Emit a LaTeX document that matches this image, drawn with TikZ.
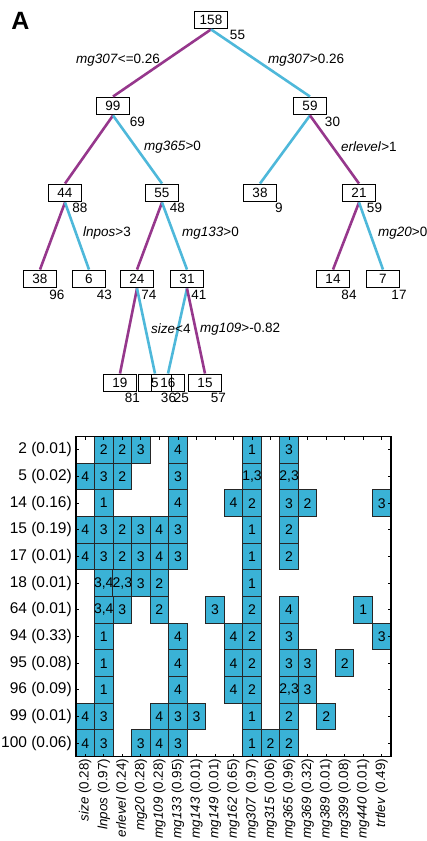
\documentclass[tikz,border=0pt]{standalone}
\usepackage{fontspec}
\setmainfont{Liberation Sans}
\definecolor{tcyan}{RGB}{78,184,218}
\definecolor{tpurple}{RGB}{150,55,140}
\definecolor{cellcyan}{RGB}{58,178,214}
\newcommand{\tfont}{\fontsize{13.5}{15}\selectfont}
\newcommand{\cfont}{\fontsize{14}{16}\selectfont}
\newcommand{\lfont}{\fontsize{15.5}{17}\selectfont}
\newcommand{\vfont}{\fontsize{13.4}{15}\selectfont}
\begin{document}
\begin{tikzpicture}[x=1pt,y=-1pt,
  treebox/.style={draw, line width=1.9pt, minimum width=33pt, minimum height=17pt,
    inner sep=0pt, font=\tfont},
  count/.style={font=\tfont, inner sep=0pt},
  split/.style={font=\tfont, inner sep=0pt, anchor=west},
  pedge/.style={draw=tpurple, line width=2.6pt},
  cedge/.style={draw=tcyan, line width=2.6pt},
  cell/.style={draw=black!85, line width=1pt, fill=cellcyan, minimum width=18.53pt,
    minimum height=26.67pt, inner sep=0pt, font=\cfont},
  rowlab/.style={font=\lfont, anchor=east, inner sep=0pt},
  collab/.style={font=\vfont, anchor=east, rotate=90, inner sep=0pt},
  tick/.style={line width=0.8pt}]
\useasboundingbox (0,0) rectangle (426,841);

% panel letter
\node[font=\fontsize{25}{28}\selectfont\bfseries, inner sep=0pt] (panelA) at (20.5,20.5) {A};

% ---------- decision tree ----------
\node[treebox] (n158) at (211,20) {158};
\node[treebox] (n99)  at (113,106) {99};
\node[treebox] (n59)  at (310,106) {59};
\node[treebox] (n44)  at (65,193) {44};
\node[treebox] (n55)  at (162,193) {55};
\node[treebox] (n38a) at (260,193) {38};
\node[treebox] (n21)  at (359,193) {21};
\node[treebox] (n38b) at (40,279) {38};
\node[treebox] (n6)   at (89,279) {6};
\node[treebox] (n24)  at (137,279) {24};
\node[treebox] (n31)  at (187,279) {31};
\node[treebox] (n14)  at (333,279) {14};
\node[treebox] (n7)   at (383,279) {7};
\node[treebox] (n19)  at (120,383) {19};
\node[treebox] (n5)   at (155,383) {5};
\node[treebox] (n16)  at (168,383) {16};
\node[treebox] (n15)  at (205,383) {15};

\draw[pedge] (n158.south) -- (n99.north);
\draw[cedge] (n158.south) -- (n59.north);
\draw[pedge] (n99.south) -- (n44.north);
\draw[cedge] (n99.south) -- (n55.north);
\draw[cedge] (n59.south) -- (n38a.north);
\draw[pedge] (n59.south) -- (n21.north);
\draw[pedge] (n44.south) -- (n38b.north);
\draw[cedge] (n44.south) -- (n6.north);
\draw[pedge] (n55.south) -- (n24.north);
\draw[cedge] (n55.south) -- (n31.north);
\draw[pedge] (n21.south) -- (n14.north);
\draw[cedge] (n21.south) -- (n7.north);
\draw[pedge] (n24.south) -- (n19.north);
\draw[cedge] (n24.south) -- (n5.north);
\draw[cedge] (n31.south) -- (n16.north);
\draw[pedge] (n31.south) -- (n15.north);

% node counts
\node[count] (k158) at (237.5,35) {55};
\node[count] (k99)  at (137.5,122) {69};
\node[count] (k59)  at (332.5,122) {30};
\node[count] (k44)  at (80,208) {88};
\node[count] (k55)  at (177.5,208) {48};
\node[count] (k38a) at (279,208) {9};
\node[count] (k21)  at (374.5,208) {59};
\node[count] (k38b) at (57,295) {96};
\node[count] (k6)   at (104.5,295) {43};
\node[count] (k24)  at (149,295) {74};
\node[count] (k31)  at (199,295) {41};
\node[count] (k14)  at (349,295) {84};
\node[count] (k7)   at (399,295) {17};
\node[count] (k19)  at (132.5,398) {81};
\node[count] (k5)   at (168.5,398) {36};
\node[count] (k16)  at (181.5,398) {25};
\node[count] (k15)  at (218.5,398) {57};

% split rules
\node[split] (s1) at (76,60)  {\textit{mg307}<=0.26};
\node[split] (s2) at (268,60) {\textit{mg307}>0.26};
\node[split] (s3) at (144,147) {\textit{mg365}>0};
\node[split] (s4) at (341,147) {\textit{erlevel}>1};
\node[split] (s5) at (83,233) {\textit{lnpos}>3};
\node[split] (s6) at (182,233) {\textit{mg133}>0};
\node[split] (s7) at (378,233) {\textit{mg20}>0};
\node[split] (s8) at (151,329) {\textit{size}<4};
\node[split] (s9) at (200,329) {\textit{mg109}>-0.82};

% ---------- variable usage grid ----------
\foreach \r/\c/\t in {
  0/1/2, 0/2/2, 0/3/3, 0/5/4, 0/9/1, 0/11/3,
  1/0/4, 1/1/3, 1/2/2, 1/5/3, 1/9/{1,3}, 1/11/{2,3},
  2/1/1, 2/5/4, 2/8/4, 2/9/2, 2/11/3, 2/12/2, 2/16/3,
  3/0/4, 3/1/3, 3/2/2, 3/3/3, 3/4/4, 3/5/3, 3/9/1, 3/11/2,
  4/0/4, 4/1/3, 4/2/2, 4/3/3, 4/4/4, 4/5/3, 4/9/1, 4/11/2,
  5/1/{3,4}, 5/2/{2,3}, 5/3/3, 5/4/2, 5/9/1,
  6/1/{3,4}, 6/2/3, 6/4/2, 6/7/3, 6/9/2, 6/11/4, 6/15/1,
  7/1/1, 7/5/4, 7/8/4, 7/9/2, 7/11/3, 7/16/3,
  8/1/1, 8/5/4, 8/8/4, 8/9/2, 8/11/3, 8/12/3, 8/14/2,
  9/1/1, 9/5/4, 9/8/4, 9/9/2, 9/11/{2,3}, 9/12/3,
  10/0/4, 10/1/3, 10/4/4, 10/5/3, 10/6/3, 10/9/1, 10/11/2, 10/13/2,
  11/0/4, 11/1/3, 11/3/3, 11/4/4, 11/5/3, 11/9/1, 11/10/2, 11/11/2}
  \node[cell] (cell-\r-\c) at ({76+18.53*(\c+0.5)},{436.5+26.67*(\r+0.5)}) {\t};

% ticks
\foreach \r in {0,...,11} {
  \draw[tick] (76,{436.5+26.67*(\r+0.5)}) -- ++(3,0);
  \draw[tick] (391,{436.5+26.67*(\r+0.5)}) -- ++(-3,0);
}
\foreach \c in {0,...,16} {
  \draw[tick] ({76+18.53*(\c+0.5)},436.5) -- ++(0,3);
  \draw[tick] ({76+18.53*(\c+0.5)},756.5) -- ++(0,-3);
}

% frame
\draw[line width=1.5pt] (76,436.5) rectangle (391,756.5);

% row labels
\foreach \r/\t in {0/2 (0.01), 1/5 (0.02), 2/14 (0.16), 3/15 (0.19), 4/17 (0.01),
  5/18 (0.01), 6/64 (0.01), 7/94 (0.33), 8/95 (0.08), 9/96 (0.09),
  10/99 (0.01), 11/100 (0.06)}
  \node[rowlab] (row-\r) at (72,{436.5+26.67*(\r+0.5)}) {\t};

% column labels
\foreach \c/\n/\v in {0/size/0.28, 1/lnpos/0.97, 2/erlevel/0.24, 3/mg20/0.28,
  4/mg109/0.28, 5/mg133/0.95, 6/mg143/0.01, 7/mg149/0.01, 8/mg162/0.65,
  9/mg307/0.97, 10/mg315/0.06, 11/mg365/0.96, 12/mg369/0.32, 13/mg389/0.01,
  14/mg399/0.08, 15/mg440/0.01, 16/trtlev/0.49}
  \node[collab] (col-\c) at ({76+18.53*(\c+0.5)},758.5) {\textit{\n} (\v)};
\end{tikzpicture}
\end{document}
